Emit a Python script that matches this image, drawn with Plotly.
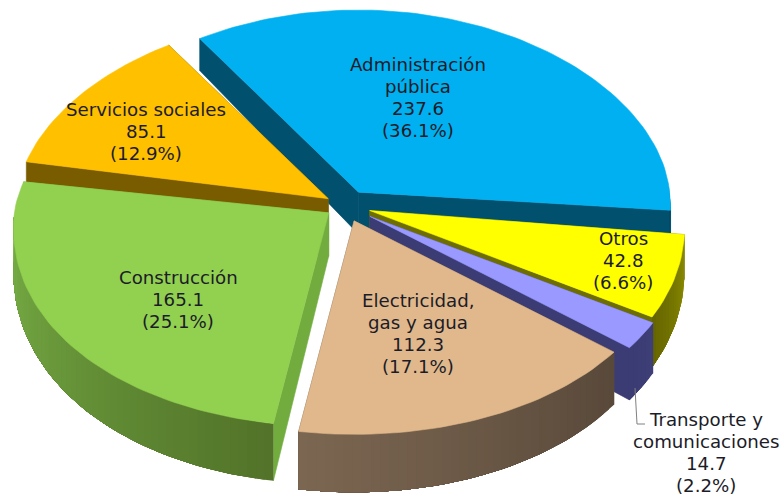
import math
import plotly.graph_objects as go

# ---- data -----
categories = ["Administración pública", "Otros", "Transporte y comunicaciones",
              "Electricidad, gas y agua", "Construcción", "Servicios sociales"]
values = [237.6, 42.8, 14.7, 112.3, 165.1, 85.1]
percents = ["36.1", "6.6", "2.2", "17.1", "25.1", "12.9"]
label_lines = [["Administración", "pública"], ["Otros"], ["Transporte y", "comunicaciones"],
               ["Electricidad,", "gas y agua"], ["Construcción"], ["Servicios sociales"]]

# ---- styles / geometry ----
top_colors = ["#00B0F0", "#FFFF00", "#9999FF", "#E0B88C", "#92D050", "#FFC000"]
cut_colors = ["#00506E", "#6E6E00", "#3C3C74", "#5E4E3C", "#72AC3F", "#7A5C00"]
wall_from = ["#005A7C", "#8A8A00", "#3E3E78", "#59493A", "#527329", "#7A5C00"]
wall_to = ["#004A66", "#666600", "#3C3C74", "#7B6651", "#7DB84A", "#7A5C00"]
pulls = [26, 26, 30, 25, 20, 20]
lifts = [6, 0, 0, 0, 0, 6]
draw_order = [0, 5, 1, 2, 4, 3]
label_centers = [(418, 64), (623, 238), (706, 419), (418, 300), (178, 277), (146, 109)]
LINE_PITCH = 22
START_ANGLE = 326.4
CX, CY = 345, 205
RX = 314
K_BACK, K_FRONT = 0.58, 0.68
PERSPECTIVE_BACK, PERSPECTIVE_FRONT = 0.0005, 0.00035
FONT = dict(family="DejaVu Sans", size=18.2, color="#1C1C28")


def ky(cosv):
    return K_BACK if cosv > 0 else K_FRONT


def pt(apex, r, deg, lift=0):
    a = math.radians(deg)
    c, s = math.cos(a), math.sin(a)
    y = apex[1] - r * c * ky(c) - lift * s * s
    slope = PERSPECTIVE_FRONT if y > 210 else PERSPECTIVE_BACK
    scale = 1 + (y - 210) * slope
    return apex[0] + r * s * scale, y


def depth(y):
    return 30 + (y - 10) * 28 / 425


def lerp_hex(c1, c2, t):
    a = [int(c1[i:i + 2], 16) for i in (1, 3, 5)]
    b = [int(c2[i:i + 2], 16) for i in (1, 3, 5)]
    return "#%02X%02X%02X" % tuple(round(p + (q - p) * t) for p, q in zip(a, b))


fig = go.Figure()


def poly(pts, color, width=0.6):
    xs = [p[0] for p in pts] + [pts[0][0]]
    ys = [p[1] for p in pts] + [pts[0][1]]
    fig.add_trace(go.Scatter(x=xs, y=ys, mode="lines", fill="toself", fillcolor=color,
                             line=dict(color=color, width=width), hoverinfo="skip",
                             showlegend=False))


def down(p):
    return p[0], p[1] + depth(p[1])


total = sum(values)
spans = [v / total * 360 for v in values]
starts = [START_ANGLE + sum(spans[:i]) for i in range(len(values))]

for i in draw_order:
    s, e = starts[i], starts[i] + spans[i]
    mid = (s + e) / 2
    apex = pt((CX, CY), pulls[i], mid)
    apex = (CX + pulls[i] * math.sin(math.radians(mid)), apex[1])
    n = max(6, int(spans[i] / 1.5))
    angles = [s + (e - s) * j / n for j in range(n + 1)]
    rim = [pt(apex, RX, a, lifts[i]) for a in angles]
    # cut faces
    poly([apex, rim[0], down(rim[0]), down(apex)], cut_colors[i])
    poly([apex, rim[-1], down(rim[-1]), down(apex)], cut_colors[i])
    # outer wall, front half only, shaded in overlapping bands so no seams show
    visible = [j for j in range(n) if 90 <= ((angles[j] + angles[j + 1]) / 2) % 360 <= 270]
    for j in visible:
        col = lerp_hex(wall_from[i], wall_to[i], j / max(1, n - 1))
        stop = visible[-1] + 1
        band = rim[j:stop + 1]
        poly(band + [down(p) for p in reversed(band)], col, width=0)
    poly([apex] + rim, top_colors[i])

# labels
for i, (cx, cy) in enumerate(label_centers):
    lines = label_lines[i] + [str(values[i]), f"({percents[i]}%)"]
    for k, txt in enumerate(lines):
        fig.add_annotation(x=cx, y=cy + k * LINE_PITCH, text=txt, showarrow=False,
                           font=FONT, xanchor="center", yanchor="middle")

# leader line for the small slice
fig.add_trace(go.Scatter(x=[635, 637, 645], y=[388, 424, 424], mode="lines",
                         line=dict(color="#808080", width=1), hoverinfo="skip",
                         showlegend=False))

fig.update_layout(width=783, height=496, margin=dict(l=0, r=0, t=0, b=0),
                  paper_bgcolor="white", plot_bgcolor="white", showlegend=False,
                  xaxis=dict(range=[0, 783], visible=False),
                  yaxis=dict(range=[496, 0], visible=False))
fig.write_html("out.html", config=dict(displayModeBar=False),
               post_script="document.body.style.margin='0';document.body.style.overflow='hidden';")
